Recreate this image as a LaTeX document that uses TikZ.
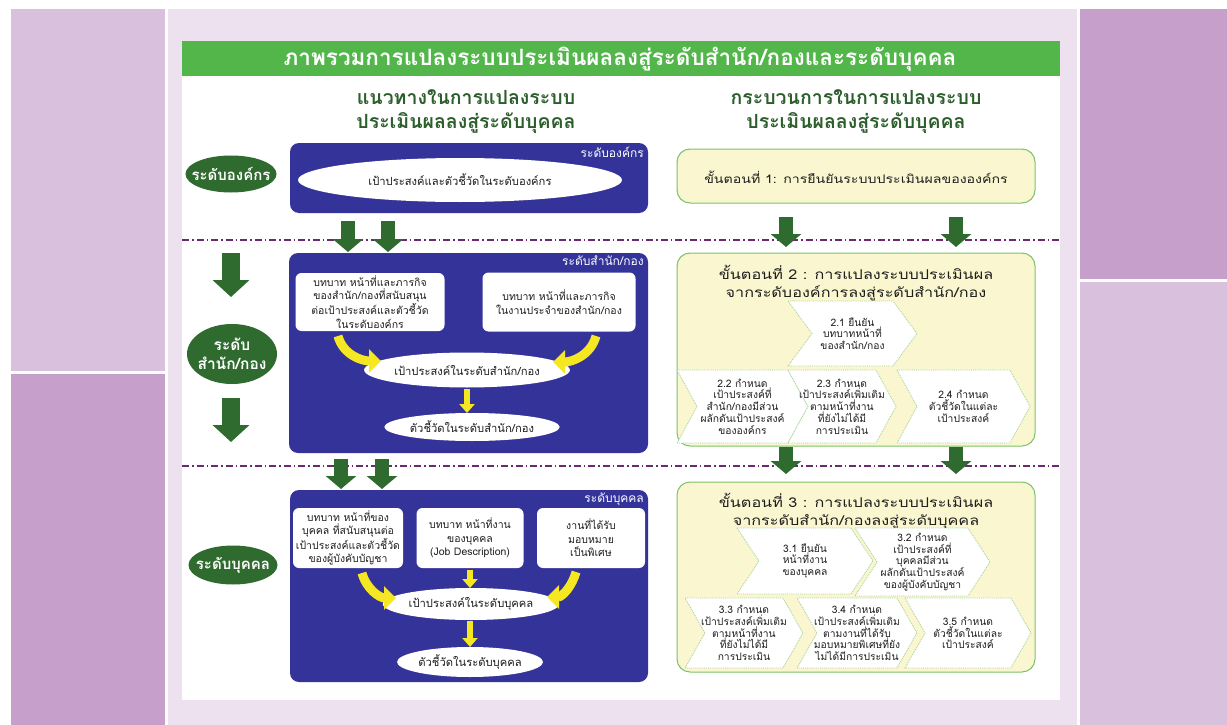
\documentclass[tikz,border=0pt]{standalone}
\usepackage{fontspec}
\setmainfont[Script=Thai]{Loma}
\newfontfamily\widethai[Script=Thai,FakeStretch=1.2]{Loma}
\usetikzlibrary{shapes.geometric,arrows.meta}

\definecolor{lilaclt}{HTML}{D9C0DD}
\definecolor{lilacdk}{HTML}{C6A0CA}
\definecolor{lavend}{HTML}{EDE1F0}
\definecolor{bargreen}{HTML}{52B64A}
\definecolor{headgreen}{HTML}{2D5F2D}
\definecolor{lvlgreen}{HTML}{2F6A2F}
\definecolor{navyblue}{HTML}{333399}
\definecolor{yarr}{HTML}{F5E823}
\definecolor{stepfill}{HTML}{FAF7D0}
\definecolor{stepline}{HTML}{7CC26A}
\definecolor{chevline}{HTML}{A9D39B}
\definecolor{dashpurple}{HTML}{6C2A6E}
\definecolor{inktext}{HTML}{1E1E1E}

% chevron: name, left x, top y, tip x, bottom y, depth, text
\newcommand{\chevshape}[7]{%
  \path[chevbox] (#2,#3) -- ({#4-#6},#3) -- (#4,{(#3+#5)/2}) -- ({#4-#6},#5)
    -- (#2,#5) -- ({#2+#6},{(#3+#5)/2}) -- cycle;
  \node[chevtext] (#1) at ({(#2+#4)/2},{(#3+#5)/2}) {#7};}

\begin{document}
\begin{tikzpicture}[x=1pt,y=-1pt,
  lvl/.style={ellipse,fill=lvlgreen,inner sep=0pt},
  lvltext/.style={text=white,inner sep=0pt,align=center,
    font=\bfseries\fontsize{15}{18}\selectfont},
  bluebox/.style={rectangle,rounded corners=9pt,fill=navyblue,inner sep=0pt},
  boxlabel/.style={anchor=north east,text=white,inner sep=0pt,
    font=\fontsize{12}{13}\selectfont},
  wbox/.style={rectangle,rounded corners=6pt,fill=white,inner sep=0pt,align=center,
    text=inktext,font=\fontsize{10.5}{13.5}\selectfont},
  well/.style={ellipse,fill=white,inner sep=0pt,text=inktext,
    font=\fontsize{11.2}{13}\selectfont},
  gblk/.style={draw=lvlgreen,line width=14pt,-{Triangle[length=13pt,width=30pt]}},
  gbig/.style={draw=lvlgreen,line width=18pt,-{Triangle[length=17pt,width=36pt]}},
  yarrow/.style={draw=yarr,line width=9pt,-{Triangle[length=12pt,width=23pt]}},
  ydown/.style={draw=yarr,line width=6pt,-{Triangle[length=9pt,width=15pt]}},
  stepbox/.style={rectangle,rounded corners=13pt,fill=stepfill,draw=stepline,
    line width=1pt,inner sep=0pt},
  steptext/.style={align=center,text=inktext,inner sep=0pt,
    font=\widethai\fontsize{13.5}{17.5}\selectfont},
  chevbox/.style={fill=white,draw=chevline,densely dotted,line width=0.9pt},
  chevtext/.style={align=center,text=inktext,inner sep=0pt,
    font=\fontsize{10.3}{11.8}\selectfont},
  header/.style={align=center,text=headgreen,inner sep=0pt,
    font=\bfseries\fontsize{19.5}{24}\selectfont},
  sepline/.style={draw=dashpurple,line width=1.2pt,
    dash pattern=on 7pt off 3pt on 1.5pt off 3pt}]

% page and side panels
\fill[white] (0,0) rectangle (1227,725);
\useasboundingbox (0,0) rectangle (1227,725);
\fill[lilaclt] (11,9) rectangle (165,371);
\fill[lilacdk] (11,374) rectangle (165,725);
\fill[lilacdk] (1080,9) rectangle (1227,279);
\fill[lilaclt] (1080,282) rectangle (1227,725);
\fill[lavend] (168,9) rectangle (1077,725);
\fill[white] (182,76) rectangle (1060,700);
\fill[bargreen] (182,41) rectangle (1060,76);

% title and column headers
\node[text=white,inner sep=0pt,font=\bfseries\fontsize{22.5}{24}\selectfont] (title) at (620,59)
  {ภาพรวมการแปลงระบบประเมินผลลงสู่ระดับสำนัก/กองและระดับบุคคล};
\node[header] (hleft) at (466,112) {แนวทางในการแปลงระบบ\\ประเมินผลลงสู่ระดับบุคคล};
\node[header] (hright) at (856,112) {กระบวนการในการแปลงระบบ\\ประเมินผลลงสู่ระดับบุคคล};

% level separators
\coordinate (sep1a) at (182,240); \coordinate (sep1b) at (1060,240);
\coordinate (sep2a) at (182,466); \coordinate (sep2b) at (1060,466);
\draw[sepline] (sep1a) -- (sep1b);
\draw[sepline] (sep2a) -- (sep2b);

% level badges
\node[lvl,minimum width=91pt,minimum height=37pt] (lorg) at (231,174) {};
\node[lvltext] (lorgt) at (lorg) {ระดับองค์กร};
\node[lvl,minimum width=90pt,minimum height=60pt] (ldiv) at (232,354) {};
\node[lvltext,font=\bfseries\fontsize{15.5}{19}\selectfont] (ldivt) at (ldiv) {ระดับ\\สำนัก/กอง};
\node[lvl,minimum width=89pt,minimum height=39pt] (lind) at (233,565) {};
\node[lvltext] (lindt) at (lind) {ระดับบุคคล};
\coordinate (la1) at (231,253); \coordinate (la2) at (231,297);
\coordinate (la3) at (231,398); \coordinate (la4) at (231,442);
\draw[gbig] (la1) -- (la2);
\draw[gbig] (la3) -- (la4);

% organisation level
\node[bluebox,minimum width=358pt,minimum height=70pt] (borg) at (469,178) {};
\node[boxlabel] (borglab) at (644,147) {ระดับองค์กร};
\node[well,minimum width=324pt,minimum height=44pt] (eorg) at (460,180)
  {เป้าประสงค์และตัวชี้วัดในระดับองค์กร};

% division level
\node[bluebox,minimum width=359pt,minimum height=200pt] (bdiv) at (468.5,353) {};
\node[boxlabel] (bdivlab) at (644,256) {ระดับสำนัก/กอง};
\node[wbox,minimum width=149pt,minimum height=58pt] (dleft) at (370,302)
  {บทบาท หน้าที่และภารกิจ\\ของสำนัก/กองที่สนับสนุน\\ต่อเป้าประสงค์และตัวชี้วัด\\ในระดับองค์กร};
\node[wbox,minimum width=153pt,minimum height=59pt] (dright) at (559,302)
  {บทบาท หน้าที่และภารกิจ\\ในงานประจำของสำนัก/กอง};
\node[well,minimum width=170pt,minimum height=35pt] (dgoal) at (467,370)
  {เป้าประสงค์ในระดับสำนัก/กอง};
\node[well,minimum width=160pt,minimum height=28pt] (dkpi) at (472,427)
  {ตัวชี้วัดในระดับสำนัก/กอง};
\coordinate (dy1) at (338,336); \coordinate (dy2) at (381,361);
\coordinate (dy3) at (596,336); \coordinate (dy4) at (553,362);
\draw[yarrow] (dy1) to[out=-75,in=180] (dy2);
\draw[yarrow] (dy3) to[out=-105,in=0] (dy4);
\coordinate (dy5) at (467,389); \coordinate (dy6) at (467,413);
\draw[ydown] (dy5) -- (dy6);

% individual level
\node[bluebox,minimum width=358pt,minimum height=192pt] (bind) at (469,586) {};
\node[boxlabel] (bindlab) at (644,493) {ระดับบุคคล};
\node[wbox,minimum width=110pt,minimum height=60pt] (ileft) at (348,538)
  {บทบาท หน้าที่ของ\\บุคคล ที่สนับสนุนต่อ\\เป้าประสงค์และตัวชี้วัด\\ของผู้บังคับบัญชา};
\node[wbox,minimum width=107pt,minimum height=60pt] (imid) at (470,538)
  {บทบาท หน้าที่งาน\\ของบุคคล\\(Job Description)};
\node[wbox,minimum width=108pt,minimum height=60pt] (iright) at (591,538)
  {งานที่ได้รับ\\มอบหมาย\\เป็นพิเศษ};
\node[well,minimum width=140pt,minimum height=32pt] (igoal) at (471,604)
  {เป้าประสงค์ในระดับบุคคล};
\node[well,minimum width=114pt,minimum height=30pt] (ikpi) at (470,662)
  {ตัวชี้วัดในระดับบุคคล};
\coordinate (iy1) at (362,573); \coordinate (iy2) at (396,598);
\coordinate (iy3) at (576,572); \coordinate (iy4) at (547,597);
\draw[yarrow] (iy1) to[out=-75,in=180] (iy2);
\draw[yarrow] (iy3) to[out=-105,in=0] (iy4);
\coordinate (iy5) at (470,570); \coordinate (iy6) at (470,588);
\draw[ydown] (iy5) -- (iy6);
\coordinate (iy7) at (470,621); \coordinate (iy8) at (470,647);
\draw[ydown] (iy7) -- (iy8);

% arrows between levels, left column
\coordinate (ga1) at (348,221); \coordinate (ga2) at (348,252);
\coordinate (ga3) at (388,221); \coordinate (ga4) at (388,252);
\coordinate (ga5) at (341,459); \coordinate (ga6) at (341,489);
\coordinate (ga7) at (382,459); \coordinate (ga8) at (382,489);
\draw[gblk] (ga1) -- (ga2);
\draw[gblk] (ga3) -- (ga4);
\draw[gblk] (ga5) -- (ga6);
\draw[gblk] (ga7) -- (ga8);

% step 1
\node[stepbox,minimum width=358pt,minimum height=54pt] (s1) at (856,176) {};
\node[steptext,font=\widethai\fontsize{11.8}{14}\selectfont] (s1t) at (856,177)
  {ขั้นตอนที่ 1: การยืนยันระบบประเมินผลขององค์กร};

% step 2
\node[stepbox,minimum width=358pt,minimum height=193pt] (s2) at (856,349.5) {};
\node[steptext] (s2t) at (856,283) {ขั้นตอนที่ 2 : การแปลงระบบประเมินผล\\จากระดับองค์การลงสู่ระดับสำนัก/กอง};
\chevshape{c21}{788}{301}{917}{366}{24}{2.1 ยืนยัน\\บทบาทหน้าที่\\ของสำนัก/กอง}
\chevshape{c22}{677}{370}{808}{443}{20}{2.2 กำหนด\\เป้าประสงค์ที่\\สำนัก/กองมีส่วน\\ผลักดันเป้าประสงค์\\ขององค์กร}
\chevshape{c23}{788}{370}{896}{443}{20}{2.3 กำหนด\\เป้าประสงค์เพิ่มเติม\\ตามหน้าที่งาน\\ที่ยังไม่ได้มี\\การประเมิน}
\chevshape{c24}{897}{370}{1030}{443}{20}{2.4 กำหนด\\ตัวชี้วัดในแต่ละ\\เป้าประสงค์}

% step 3
\node[stepbox,minimum width=358pt,minimum height=190pt] (s3) at (856,577) {};
\node[steptext] (s3t) at (856,511) {ขั้นตอนที่ 3 : การแปลงระบบประเมินผล\\จากระดับสำนัก/กองลงสู่ระดับบุคคล};
\chevshape{c31}{737}{528}{873}{594}{22}{3.1 ยืนยัน\\หน้าที่งาน\\ของบุคคล}
\chevshape{c32}{855}{528}{990}{596}{22}{3.2 กำหนด\\เป้าประสงค์ที่\\บุคคลมีส่วน\\ผลักดันเป้าประสงค์\\ของผู้บังคับบัญชา}
\chevshape{c33}{685}{598}{803}{668}{20}{3.3 กำหนด\\เป้าประสงค์เพิ่มเติม\\ตามหน้าที่งาน\\ที่ยังไม่ได้มี\\การประเมิน}
\chevshape{c34}{797}{598}{917}{668}{20}{3.4 กำหนด\\เป้าประสงค์เพิ่มเติม\\ตามงานที่ได้รับ\\มอบหมายพิเศษที่ยัง\\ไม่ได้มีการประเมิน}
\chevshape{c35}{905}{598}{1031}{668}{20}{3.5 กำหนด\\ตัวชี้วัดในแต่ละ\\เป้าประสงค์}

% arrows between steps
\coordinate (sa1) at (786,217); \coordinate (sa2) at (786,247);
\coordinate (sa3) at (956,217); \coordinate (sa4) at (956,247);
\coordinate (sa5) at (786,447); \coordinate (sa6) at (786,474);
\coordinate (sa7) at (956,447); \coordinate (sa8) at (956,474);
\draw[gblk] (sa1) -- (sa2);
\draw[gblk] (sa3) -- (sa4);
\draw[gblk] (sa5) -- (sa6);
\draw[gblk] (sa7) -- (sa8);
\end{tikzpicture}
\end{document}
